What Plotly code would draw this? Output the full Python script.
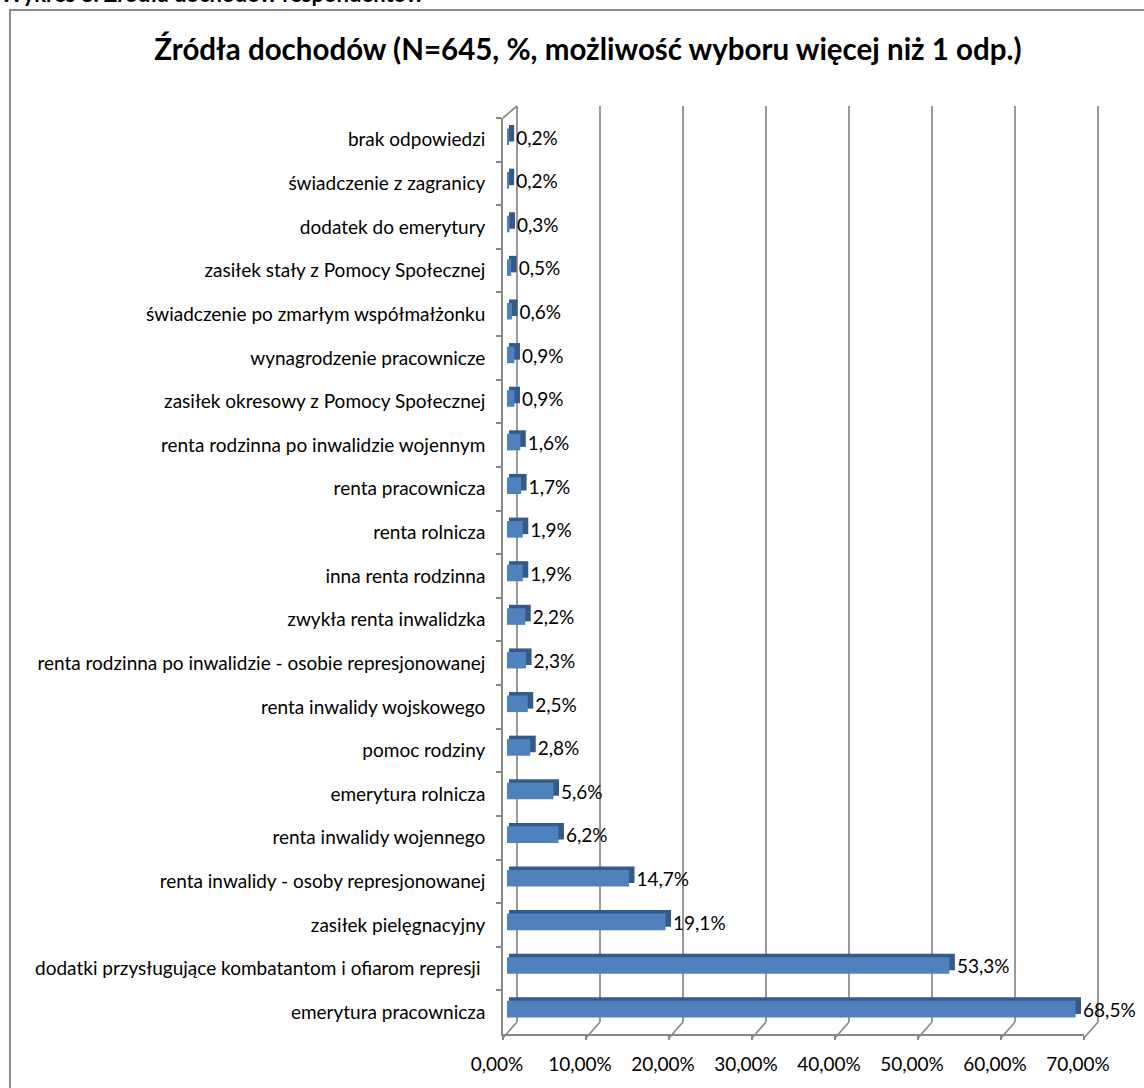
import plotly.graph_objects as go

# dane z wykresu (kolejność od góry)
kategorie = [
    "brak odpowiedzi",
    "świadczenie z zagranicy",
    "dodatek do emerytury",
    "zasiłek stały z Pomocy Społecznej",
    "świadczenie po zmarłym współmałżonku",
    "wynagrodzenie pracownicze",
    "zasiłek okresowy z Pomocy Społecznej",
    "renta rodzinna po inwalidzie wojennym",
    "renta pracownicza",
    "renta rolnicza",
    "inna renta rodzinna",
    "zwykła renta inwalidzka",
    "renta rodzinna po inwalidzie - osobie represjonowanej",
    "renta inwalidy wojskowego",
    "pomoc rodziny",
    "emerytura rolnicza",
    "renta inwalidy wojennego",
    "renta inwalidy - osoby represjonowanej",
    "zasiłek pielęgnacyjny",
    "dodatki przysługujące kombatantom i ofiarom represji ",
    "emerytura pracownicza",
]
procenty = [0.2, 0.2, 0.3, 0.5, 0.6, 0.9, 0.9, 1.6, 1.7, 1.9, 1.9,
            2.2, 2.3, 2.5, 2.8, 5.6, 6.2, 14.7, 19.1, 53.3, 68.5]
osie_x = [0, 10, 20, 30, 40, 50, 60, 70]
etykiety_x = [f"{v:.2f}%".replace(".", ",") for v in osie_x]

W, H = 1144, 1088
L, R, T, B = 503, 1084, 118, 1034      # przednia płaszczyzna wykresu (px)
PX = (R - L) / 70                       # px na 1%
DX, DY = 14, 12                         # głębokość ścian 3D (px)
FONT = "Lato, 'Noto Sans', sans-serif"
SZARY = "#888888"

baza = 4 / PX          # przesunięcie słupka w głąb
gleb = 5.5 / PX        # boczna ściana słupka

fig = go.Figure()

# ciemna "bryła" za słupkiem (góra + bok)
fig.add_trace(go.Bar(
    y=kategorie, x=[v + gleb - 2 / PX for v in procenty], base=baza + 2 / PX,
    orientation="h", width=0.38, offset=-0.34,
    marker=dict(color="#355A88", line=dict(width=0)),
    hoverinfo="skip", showlegend=False,
))
# przednia ściana słupka
fig.add_trace(go.Bar(
    y=kategorie, x=procenty, base=baza,
    orientation="h", width=0.38, offset=-0.26,
    marker=dict(color="#4F81BD", line=dict(width=0)),
    showlegend=False,
))
# etykiety danych
fig.add_trace(go.Scatter(
    y=kategorie, x=[v + baza + gleb + 2 / PX for v in procenty],
    mode="text", text=[f"{v:.1f}%".replace(".", ",") for v in procenty],
    textposition="middle right", cliponaxis=False,
    textfont=dict(family=FONT, size=19, color="#000000"),
    hoverinfo="skip", showlegend=False,
))

def px_x(p):
    return (p - L) / (R - L)

def px_y(p):
    return (B - p) / (B - T)

ksztalty = []
# linie siatki na tylnej ścianie + skosy podłogi
for v in osie_x:
    xb = L + v * PX + DX
    xf = L + v * PX
    ksztalty.append(dict(type="line", xref="paper", yref="paper", layer="below",
                         x0=px_x(xb), x1=px_x(xb), y0=px_y(B - DY), y1=px_y(T - DY),
                         line=dict(color=SZARY, width=1.7)))
    ksztalty.append(dict(type="line", xref="paper", yref="paper", layer="below",
                         x0=px_x(xb), x1=px_x(xf), y0=px_y(B - DY), y1=px_y(B + 4),
                         line=dict(color=SZARY, width=1.7)))
# górny skos lewej ściany
ksztalty.append(dict(type="line", xref="paper", yref="paper", layer="below",
                     x0=px_x(L), x1=px_x(L + DX), y0=px_y(T), y1=px_y(T - DY),
                     line=dict(color=SZARY, width=1.7)))
# ramka całego wykresu
ksztalty.append(dict(type="rect", xref="paper", yref="paper", layer="below",
                     x0=px_x(10), x1=px_x(1160), y0=px_y(1110), y1=px_y(10),
                     line=dict(color="#8c8c8c", width=2)))

fig.update_layout(
    width=W, height=H,
    margin=dict(l=L, r=W - R, t=T, b=H - B),
    paper_bgcolor="white", plot_bgcolor="rgba(0,0,0,0)",
    separators=", ",
    barmode="overlay",
    hovermode=False,
    font=dict(family=FONT, size=19, color="#000000"),
    title=dict(text="<b>Źródła dochodów (N=645, %, możliwość wyboru więcej niż 1 odp.)</b>",
               xref="container", yref="container",
               x=588 / W, y=1 - 50 / H,
               xanchor="center", yanchor="middle",
               font=dict(family=FONT, size=29.5, color="#000000")),
    shapes=ksztalty,
    annotations=[dict(text="<b>Wykres 8. Źródła dochodów respondentów</b>",
                      xref="paper", yref="paper", x=px_x(-2), y=px_y(9),
                      xanchor="left", yanchor="bottom", showarrow=False,
                      font=dict(family=FONT, size=22, color="#000000"))],
    xaxis=dict(range=[0, 70], tickvals=osie_x, ticktext=etykiety_x,
               showgrid=False, zeroline=False,
               showline=True, linecolor=SZARY, linewidth=1.7,
               ticks="outside", ticklen=4, tickcolor=SZARY, tickwidth=1.7,
               ticklabelstandoff=8, ticklabelshift=-6,
               tickfont=dict(family=FONT, size=19, color="#000000")),
    yaxis=dict(type="category", range=[20.5, -0.5], showgrid=False, zeroline=False,
               showline=True, linecolor=SZARY, linewidth=1.7,
               ticks="outside", tickson="boundaries", ticklen=5, tickcolor=SZARY,
               tickwidth=1.7, ticklabelstandoff=12,
               tickfont=dict(family=FONT, size=19, color="#000000")),
)

# bez domyślnego marginesu strony, żeby wykres zaczynał się w rogu okna
fig.write_html("out.html", config={"displayModeBar": False},
               post_script="document.body.style.margin = '0';")
